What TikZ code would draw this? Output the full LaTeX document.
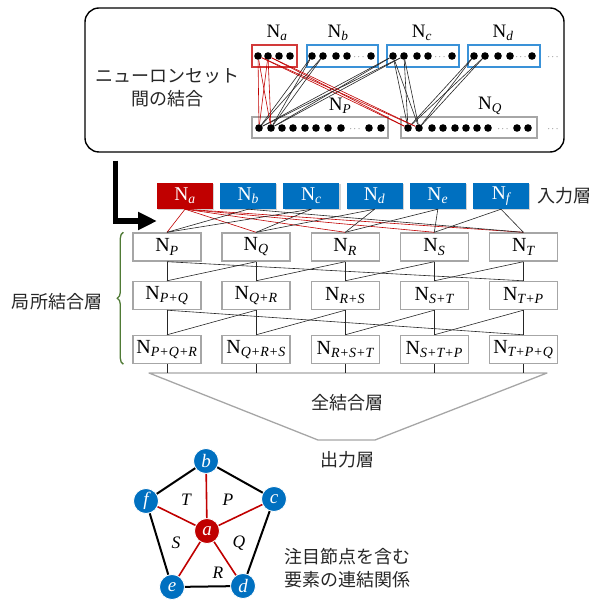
\documentclass[tikz,border=0pt]{standalone}
\usepackage{fontspec}
\setmainfont{Liberation Serif}
\newfontfamily\jpfont{Noto Sans CJK JP}
\usepackage{xcolor}
\definecolor{nred}{HTML}{C00000}
\definecolor{nblue}{HTML}{0070C0}
\definecolor{setred}{HTML}{D23A3A}
\definecolor{setblue}{HTML}{3A92D8}
\definecolor{cellgray}{HTML}{A6A6A6}
\definecolor{bracegreen}{HTML}{4F7A35}
\definecolor{inkgray}{HTML}{262626}
\usetikzlibrary{arrows.meta,positioning,calc,decorations.pathreplacing,shadows}
\newcommand{\Nsub}[1]{N\textsubscript{\itshape #1}}
\tikzset{
  outerbox/.style={draw=black,line width=1.4pt,rounded corners=14pt,
                   minimum width=479pt,minimum height=144pt,inner sep=0pt},
  setbox/.style  ={line width=1.1pt,minimum height=22pt,inner sep=0pt},
  neuron/.style  ={circle,fill=black,inner sep=0pt,minimum size=7.6pt},
  ell/.style     ={inner sep=0pt,font=\small,text=inkgray},
  setlbl/.style  ={font=\fontsize{19}{21}\selectfont,inner sep=0pt},
  inbox/.style   ={minimum width=56pt,minimum height=26pt,inner sep=0pt,
                   text=white,font=\fontsize{19.5}{21}\selectfont,
                   drop shadow={shadow xshift=1.2pt,shadow yshift=-1.2pt,opacity=.35}},
  cell/.style    ={draw=cellgray,line width=1.4pt,fill=white,minimum width=68pt,
                   minimum height=28pt,inner sep=0pt,font=\fontsize{20}{22}\selectfont},
  jp/.style      ={font=\jpfont\fontsize{18}{23}\selectfont,text=inkgray,
                   align=center,inner sep=0pt},
  wire/.style    ={draw=black!85,line width=0.6pt},
  redwire/.style ={draw=nred,line width=0.6pt},
  funnel/.style  ={draw=cellgray,line width=1.3pt,line join=round},
  bigarrow/.style={line width=5.5pt,-{Triangle[length=19pt,width=17pt]}},
  gnode/.style   ={circle,draw=white,line width=0.8pt,fill=nblue,
                   minimum size=25pt,inner sep=0pt,text=white,
                   font=\fontsize{19}{20}\selectfont\itshape},
  rim/.style     ={draw=black,line width=2pt},
  spoke/.style   ={draw=nred,line width=1.6pt},
  elbl/.style    ={font=\fontsize{17.5}{19}\selectfont\itshape,inner sep=0pt},
}
\begin{document}
\begin{tikzpicture}[x=1pt,y=-1pt]
\useasboundingbox (0,0) rectangle (596,601);
%================= top : connections between neuron sets
\node[outerbox] (frm) at (324.5,80) {};
\node[jp] (setconn) at (167,88) {ニューロンセット\\間の結合};
\node[setbox,draw=setred,minimum width=45pt] (sa) at (274.5,56) {};
\node[setbox,draw=setblue,minimum width=71pt] (sb) at (342.5,56) {};
\node[setbox,draw=setblue,minimum width=72pt] (sc) at (423,56) {};
\node[setbox,draw=setblue,minimum width=72pt] (sd) at (504,56) {};
\node[setbox,draw=cellgray,minimum width=136pt,minimum height=21pt] (sp) at (320,127.5) {};
\node[setbox,draw=cellgray,minimum width=136pt,minimum height=21pt] (sq) at (469,127.5) {};
\foreach \s/\x in {a/277,b/338,c/422,d/503}
  \node[setlbl] (l\s) at (\x,33) {\Nsub{\s}};
\node[setlbl] (lp) at (340,106) {\Nsub{P}};
\node[setlbl] (lq) at (490,106) {\Nsub{Q}};
% neurons of each set
\foreach \k/\x in {1/258,2/268,3/279,4/290} \node[neuron] (a\k) at (\x,56) {};
\foreach \k/\x in {1/312,2/323,3/336,4/347,5/371} \node[neuron] (b\k) at (\x,56) {};
\foreach \k/\x in {1/393,2/404,3/417,4/428,5/452} \node[neuron] (c\k) at (\x,56) {};
\foreach \k/\x in {1/474,2/485,3/498,4/510,5/532} \node[neuron] (d\k) at (\x,56) {};
\foreach \k/\x in {1/259,2/271,3/282,4/293,5/305,6/316,7/328,8/341,9/369,10/381}
  \node[neuron] (p\k) at (\x,128) {};
\foreach \k/\x in {1/408,2/419,3/432,4/443,5/455,6/466,7/477,8/488,9/517,10/528}
  \node[neuron] (q\k) at (\x,128) {};
\foreach \nm/\x/\y in {bd/359/57,cd/440/57,dd/521/57,pd/355/129,qd/503/129,xd/553/57,yd/553/129}
  \node[ell] (\nm) at (\x,\y) {$\cdots$};
\foreach \u in {1,2}{\foreach \v in {1,2}{
  \draw[redwire] (a\u) -- (p\v);
  \draw[redwire] (a\u) -- (q\v);
  \draw[wire] (b\u) -- (p\v);
  \draw[wire] (c\u) -- (p\v);
  \draw[wire] (c\u) -- (q\v);
  \draw[wire] (d\u) -- (q\v);}}

%================= input layer
\coordinate (arrtip) at (157,221);
\draw[bigarrow] ([xshift=31pt,yshift=-8pt]frm.south west) |- (arrtip);
\foreach \i/\l/\c in {0/a/nred,1/b/nblue,2/c/nblue,3/d/nblue,4/e/nblue,5/f/nblue}
  \node[inbox,fill=\c] (in\l) at ({185+63.2*\i},196) {\Nsub{\l}};
\node[jp,anchor=west] (inlbl) at (537,196) {入力層};

%================= locally connected layers
\foreach \i/\nm in {1/P,2/Q,3/R,4/S,5/T}
  \node[cell] (r1\i) at ({167+89.1*(\i-1)},247) {\Nsub{\nm}};
\foreach \i/\nm in {1/P+Q,2/Q+R,3/R+S,4/S+T,5/T+P}
  \node[cell] (r2\i) at ({167+89.1*(\i-1)},295.5) {\Nsub{\nm}};
\foreach \i/\nm in {1/P+Q+R,2/Q+R+S,3/R+S+T,4/S+T+P,5/T+P+Q}
  \node[cell] (r3\i) at ({167+89.1*(\i-1)},349.5) {\Nsub{\nm}};
\foreach \i in {1,...,5} \draw[redwire] (ina.south) -- (r1\i.north);
\foreach \i/\u/\v in {1/b/c,2/c/d,3/d/e,4/e/f,5/f/b}
 {\draw[wire] (in\u.south) -- (r1\i.north);
  \draw[wire] (in\v.south) -- (r1\i.north);}
\foreach \i/\j in {1/2,2/3,3/4,4/5,5/1}
 {\draw[wire] (r1\i.south) -- (r2\i.north);
  \draw[wire] (r1\j.south) -- (r2\i.north);
  \draw[wire] (r2\i.south) -- (r3\i.north);
  \draw[wire] (r2\j.south) -- (r3\i.north);}
\draw[decorate,decoration={brace,amplitude=6pt},draw=bracegreen,line width=1.3pt]
  ([xshift=-9pt]r31.south west) -- ([xshift=-9pt]r11.north west);
\node[jp] (loclbl) at (57,302) {局所結合層};

%================= fully connected layer and output
\coordinate (ftl) at (149,373);
\coordinate (ftr) at (547,373);
\coordinate (fbr) at (375,440);
\coordinate (fbl) at (318,440);
\draw[funnel] (ftl) -- (ftr) -- (fbr) -- (fbl) -- cycle;
\foreach \i in {1,...,5} \draw[wire] (r3\i.south) -- (r3\i.south |- ftl);
\node[jp] (fclbl) at (347,403) {全結合層};
\node[jp] (outlbl) at (347,460) {出力層};

%================= element graph around node a
\node[gnode,fill=nred] (ga) at (207,531) {a};
\node[gnode] (gb) at (206,461) {b};
\node[gnode] (gc) at (274,499) {c};
\node[gnode] (gd) at (243,586) {d};
\node[gnode] (ge) at (172,587) {e};
\node[gnode] (gf) at (146,501) {f};
\foreach \u/\v in {b/c,c/d,d/e,e/f,f/b} \draw[rim] (g\u) -- (g\v);
\foreach \v in {b,c,d,e,f} \draw[spoke] (ga) -- (g\v);
\foreach \nm/\x/\y in {T/186/500,P/228/500,S/176/543,Q/239/543,R/218/573}
  \node[elbl] (e\nm) at (\x,\y) {\nm};
\node[jp] (note) at (347,568.5) {注目節点を含む\\要素の連結関係};
\end{tikzpicture}
\end{document}
